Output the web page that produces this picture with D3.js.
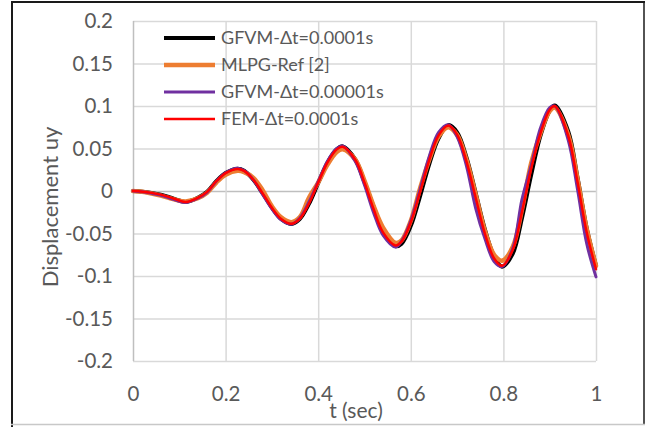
<!DOCTYPE html>
<html>
<head>
<meta charset="utf-8">
<script src="https://cdn.jsdelivr.net/npm/d3@7"></script>
<style>
  body { margin: 0; background: #fff; }
  text { font-family: Lato, "Open Sans", sans-serif; fill: #595959; }
</style>
</head>
<body>
<div id="chart"></div>
<script>
// time samples (s), shared by all four series
var tSec = [0, 0.02, 0.04, 0.06, 0.08, 0.10, 0.114, 0.14, 0.16, 0.18, 0.20, 0.226, 0.24, 0.26, 0.28, 0.30, 0.32, 0.342,
  0.36, 0.38, 0.40, 0.42, 0.44, 0.453, 0.48, 0.50, 0.52, 0.54, 0.567, 0.58, 0.60, 0.62, 0.64, 0.66, 0.681,
  0.70, 0.72, 0.74, 0.76, 0.78, 0.797, 0.82, 0.84, 0.86, 0.88, 0.90, 0.911, 0.94, 0.96, 0.98, 1.0];

var gfvm1 = [0, -0.0008, -0.0022, -0.0043, -0.0075, -0.0112, -0.0129, -0.0080, -0.0010, 0.0115, 0.0211, 0.0262, 0.0239, 0.0134,
  -0.0026, -0.0196, -0.0330, -0.0388, -0.0330, -0.0152, 0.0094, 0.0333, 0.0490, 0.0525, 0.0372, 0.0105, -0.0190,
  -0.0460, -0.0650, -0.0620, -0.0410, -0.0060, 0.0320, 0.0620, 0.0775, 0.0690, 0.0400, -0.0020, -0.0450, -0.0770,
  -0.0890, -0.0740, -0.0320, 0.0190, 0.0650, 0.0945, 0.1005, 0.0700, 0.0160, -0.0440, -0.0880];

var mlpg = [0, -0.0010, -0.0030, -0.0055, -0.0085, -0.0115, -0.0122, -0.0085, -0.0020, 0.0100, 0.0190, 0.0237, 0.0222, 0.0155,
  0.0010, -0.0180, -0.0310, -0.0367, -0.0310, -0.0080, 0.0100, 0.0310, 0.0460, 0.0492, 0.0370, 0.0120, -0.0180,
  -0.0430, -0.0610, -0.0580, -0.0350, 0.0030, 0.0370, 0.0640, 0.0750, 0.0660, 0.0370, -0.0040, -0.0470, -0.0750,
  -0.0820, -0.0660, -0.0220, 0.0330, 0.0680, 0.0940, 0.0980, 0.0660, 0.0140, -0.0450, -0.0880];

var gfvm2 = [0, -0.0010, -0.0028, -0.0050, -0.0085, -0.0122, -0.0135, -0.0085, -0.0015, 0.0115, 0.0215, 0.0268, 0.0240, 0.0130,
  -0.0040, -0.0210, -0.0340, -0.0390, -0.0320, -0.0130, 0.0110, 0.0350, 0.0500, 0.0530, 0.0350, 0.0070, -0.0260,
  -0.0520, -0.0660, -0.0590, -0.0350, 0.0020, 0.0410, 0.0690, 0.0780, 0.0640, 0.0300, -0.0200, -0.0560, -0.0830,
  -0.0890, -0.0680, -0.0100, 0.0300, 0.0740, 0.0980, 0.1000, 0.0600, 0.0020, -0.0620, -0.1010];

var fem = [0, -0.0008, -0.0022, -0.0043, -0.0075, -0.0112, -0.0129, -0.0080, -0.0010, 0.0115, 0.0211, 0.0260, 0.0237, 0.0132,
  -0.0028, -0.0198, -0.0330, -0.0386, -0.0328, -0.0149, 0.0099, 0.0337, 0.0490, 0.0520, 0.0367, 0.0098, -0.0218,
  -0.0486, -0.0640, -0.0595, -0.0368, -0.0012, 0.0366, 0.0654, 0.0770, 0.0663, 0.0351, -0.0077, -0.0501, -0.0794,
  -0.0880, -0.0698, -0.0250, 0.0260, 0.0677, 0.0957, 0.1000, 0.0650, 0.0108, -0.0489, -0.0920];

var seriesNames = ["GFVM-\u0394t=0.0001s", "MLPG-Ref [2]", "GFVM-\u0394t=0.00001s", "FEM-\u0394t=0.0001s"];
var seriesColors = ["#000000", "#ed7d31", "#7030a0", "#ff0000"];
var seriesWidths = [4, 4.5, 3, 2.5];
var seriesValues = [gfvm1, mlpg, gfvm2, fem];

var xTicks = [0, 0.2, 0.4, 0.6, 0.8, 1];
var yTicks = [-0.2, -0.15, -0.1, -0.05, 0, 0.05, 0.1, 0.15, 0.2];

var svgWidth = 645, svgHeight = 427;
var margin = { top: 21, right: 49, bottom: 66, left: 133 };
var chartWidth = svgWidth - margin.left - margin.right;
var chartHeight = svgHeight - margin.top - margin.bottom;

var svg = d3.select("#chart").append("svg")
  .attr("width", svgWidth)
  .attr("height", svgHeight);

// outer frame
svg.append("line").attr("x1", 12).attr("x2", 12).attr("y1", 1).attr("y2", 427)
  .attr("stroke", "#1a1a1a").attr("stroke-width", 2);
svg.append("line").attr("x1", 11).attr("x2", 645).attr("y1", 2).attr("y2", 2)
  .attr("stroke", "#1a1a1a").attr("stroke-width", 2);
svg.append("line").attr("x1", 644).attr("x2", 644).attr("y1", 1).attr("y2", 425)
  .attr("stroke", "#1a1a1a").attr("stroke-width", 1.5);
svg.append("line").attr("x1", 11).attr("x2", 645).attr("y1", 424.5).attr("y2", 424.5)
  .attr("stroke", "#c8c8c8").attr("stroke-width", 1.5);

var chartGroup = svg.append("g")
  .attr("transform", `translate(${margin.left}, ${margin.top})`);

var xScale = d3.scaleLinear().domain([0, 1]).range([0, chartWidth]);
var yScale = d3.scaleLinear().domain([-0.2, 0.2]).range([chartHeight, 0]);

// gridlines
chartGroup.append("g")
  .call(d3.axisLeft(yScale).tickValues(yTicks).tickSize(-chartWidth).tickFormat(""))
  .call(g => g.select(".domain").remove())
  .selectAll("line")
  .attr("stroke", d => d === 0 ? "#bfbfbf" : "#d9d9d9")
  .attr("stroke-width", 1.5);

chartGroup.append("g")
  .attr("transform", `translate(0, ${chartHeight})`)
  .call(d3.axisBottom(xScale).tickValues(xTicks).tickSize(chartHeight).tickFormat(""))
  .call(g => g.select(".domain").remove())
  .selectAll("line")
  .attr("transform", `translate(0, ${-chartHeight})`)
  .attr("stroke", d => d === 0 ? "#bfbfbf" : "#d9d9d9")
  .attr("stroke-width", 1.5);

// tick labels (plain hyphen minus, as in the original)
var yAxis = chartGroup.append("g")
  .call(d3.axisLeft(yScale).tickValues(yTicks).tickSize(0).tickPadding(20).tickFormat(d => String(+d.toFixed(2))));
yAxis.select(".domain").remove();
yAxis.selectAll("text").style("font-size", "20.5px").attr("fill", "#595959");

var xAxis = chartGroup.append("g")
  .attr("transform", `translate(0, ${chartHeight})`)
  .call(d3.axisBottom(xScale).tickValues(xTicks).tickSize(0).tickPadding(25).tickFormat(d => String(d)));
xAxis.select(".domain").remove();
xAxis.selectAll("text").style("font-size", "20.5px").attr("fill", "#595959");

// series
var line = d3.line()
  .x((d, i) => xScale(tSec[i]))
  .y(d => yScale(d))
  .curve(d3.curveCatmullRom.alpha(0.5));

seriesValues.forEach(function(vals, k) {
  chartGroup.append("path")
    .datum(vals)
    .attr("d", line)
    .attr("fill", "none")
    .attr("stroke", seriesColors[k])
    .attr("stroke-width", seriesWidths[k])
    .attr("stroke-linejoin", "round")
    .attr("stroke-linecap", "round");
});

// legend
var legend = svg.append("g");
seriesNames.forEach(function(name, k) {
  var y = 38 + k * 27;
  legend.append("line")
    .attr("x1", 164).attr("x2", 215).attr("y1", y).attr("y2", y)
    .attr("stroke", seriesColors[k])
    .attr("stroke-width", seriesWidths[k]);
  legend.append("text")
    .attr("x", 221).attr("y", y)
    .attr("dy", "0.35em")
    .style("font-size", "18px")
    .text(name);
});

// axis titles
svg.append("text")
  .attr("transform", "translate(58, 207) rotate(-90)")
  .attr("text-anchor", "middle")
  .style("font-size", "22px")
  .text("Displacement uy");

svg.append("text")
  .attr("x", 356).attr("y", 418)
  .attr("text-anchor", "middle")
  .style("font-size", "21px")
  .text("t (sec)");
</script>
</body>
</html>
